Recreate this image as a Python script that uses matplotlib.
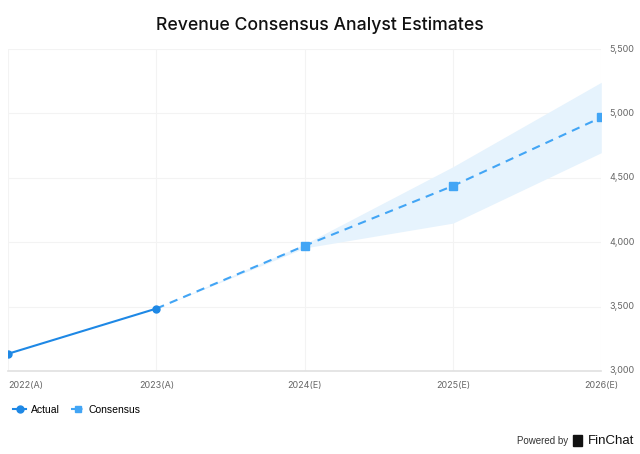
import matplotlib.pyplot as plt
import matplotlib.patches as mpatches

years = [2022, 2023, 2024, 2025, 2026]
year_labels = ['2022(A)', '2023(A)', '2024(E)', '2025(E)', '2026(E)']

actual_years = [2022, 2023]
actual = [3133, 3484]

cons_years = [2023, 2024, 2025, 2026]
consensus = [3484, 3972, 4437, 4969]
cons_high = [3484, 3985, 4586, 5242]
cons_low = [3484, 3955, 4148, 4695]

yticks = [3000, 3500, 4000, 4500, 5000, 5500]

plt.rcParams['font.family'] = ['Inter', 'DejaVu Sans']

fig = plt.figure(figsize=(6.4, 4.54), dpi=100)
ax = fig.add_axes([0.0125, 0.183, 0.927, 0.709])

ax.fill_between(cons_years, cons_low, cons_high, color='#e6f3fd', linewidth=0, zorder=1)
ax.plot(cons_years, consensus, color='#42a5f5', linestyle=(0, (4, 3)), linewidth=1.5, zorder=3)
ax.plot(cons_years[1:], consensus[1:], 's', color='#42a5f5', markersize=5.5, zorder=4)
ax.plot(actual_years, actual, color='#1e88e5', linewidth=1.5, marker='o', markersize=5, zorder=5)

ax.set_xlim(2022, 2026)
ax.set_ylim(3000, 5500)
ax.set_xticks(years)
ax.set_xticklabels(year_labels)
ax.set_yticks(yticks)
ax.set_yticklabels([f'{v:,}' for v in yticks])
ax.yaxis.tick_right()
ax.tick_params(axis='both', length=0, labelsize=6.5, labelcolor='#666666')
ax.tick_params(axis='y', pad=6)
ax.tick_params(axis='x', pad=7)
for lbl in ax.get_yticklabels():
    lbl.set_verticalalignment('center')
ax.get_xticklabels()[0].set_horizontalalignment('left')

ax.grid(True, color='#f3f3f3', linewidth=0.8)
ax.set_axisbelow(True)
for s in ['top', 'right', 'left']:
    ax.spines[s].set_visible(False)
ax.spines['bottom'].set_color('#e0e0e0')
ax.spines['bottom'].set_linewidth(1.2)

fig.text(0.5, 0.945, 'Revenue Consensus Analyst Estimates', ha='center', va='center',
         fontsize=12.7, color='#111111', fontweight='medium')

# legend
h1, = ax.plot([], [], color='#1e88e5', marker='o', markersize=5, linewidth=1.5)
h2, = ax.plot([], [], color='#42a5f5', marker='s', markersize=5, linestyle=(0, (2, 1.5)), linewidth=1.5)
fig.legend([h1, h2], ['Actual', 'Consensus'], loc='center left', bbox_to_anchor=(0.006, 0.097),
           ncol=2, frameon=False, prop={'family': 'Liberation Sans', 'size': 7.5},
           handlelength=1.25, columnspacing=1.1, handletextpad=0.45)

fig.text(0.888, 0.029, 'Powered by', ha='right', va='center', fontsize=7,
         color='#333333', family='Liberation Sans')
fig.patches.append(mpatches.Rectangle((0.896, 0.018), 0.013, 0.024, transform=fig.transFigure,
                                      color='#111111'))
fig.text(0.955, 0.029, 'FinChat', ha='center', va='center', fontsize=9.5,
         color='#111111', family='Liberation Sans')

fig.savefig('out.png', dpi=100, facecolor='white')
